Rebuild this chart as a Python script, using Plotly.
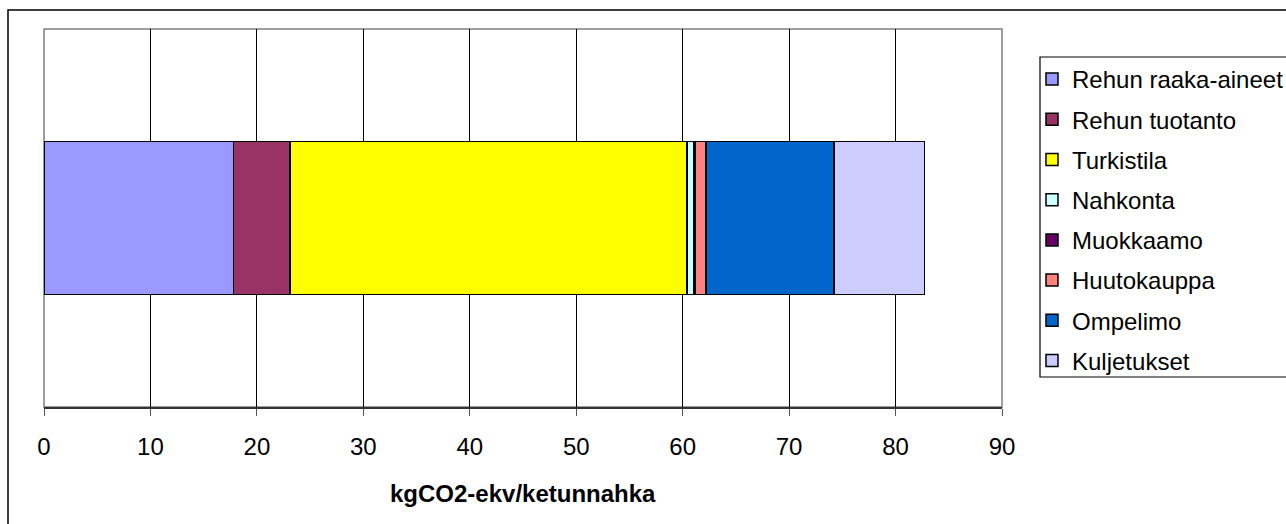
import plotly.graph_objects as go

categories = ["Rehun raaka-aineet", "Rehun tuotanto", "Turkistila", "Nahkonta",
              "Muokkaamo", "Huutokauppa", "Ompelimo", "Kuljetukset"]
values = [17.8, 5.3, 37.3, 0.65, 0.15, 1.0, 12.0, 8.5]
colors = ["#9999FF", "#993366", "#FFFF00", "#CCFFFF",
          "#660066", "#FF8080", "#0066CC", "#CCCCFF"]
bar_label = ["ketunnahka"]
tick_vals = [0, 10, 20, 30, 40, 50, 60, 70, 80, 90]
x_title = "kgCO2-ekv/ketunnahka"

FONT = "Liberation Sans, Arial, sans-serif"
FS = 24

W, H = 1286, 524
L, R, T, B = 44, 1002, 29, 407
pw, ph = R - L, B - T

def px(x):
    return (x - L) / pw

def py(y):
    return (B - y) / ph

fig = go.Figure()
for i, (name, v, c) in enumerate(zip(categories, values, colors)):
    fig.add_trace(go.Bar(
        y=bar_label, x=[v], name=name, orientation="h",
        marker=dict(color=c, line=dict(color="#000000", width=1.5)),
        legendgroup=f"g{i}",
        hoverinfo="name+x",
    ))

fig.update_layout(
    width=W, height=H,
    margin=dict(l=L, r=W - R, t=T, b=H - B, pad=0, autoexpand=False),
    paper_bgcolor="white", plot_bgcolor="white",
    barmode="stack", bargap=0.595,
    font=dict(family=FONT, size=FS, color="black"),
    showlegend=True,
    legend=dict(
        x=px(1032), y=py(57), xanchor="left", yanchor="top",
        traceorder="grouped", tracegroupgap=6,
        bgcolor="rgba(0,0,0,0)", borderwidth=0,
        font=dict(family=FONT, size=FS, color="black"),
    ),
    xaxis=dict(
        range=[0, 90], tickvals=tick_vals, showgrid=True,
        gridcolor="#000000", gridwidth=1,
        ticks="outside", ticklen=7, tickcolor="#555555", tickwidth=1,
        showline=True, linecolor="#333333", linewidth=1.5,
        ticklabelstandoff=10, zeroline=False,
        tickfont=dict(family=FONT, size=FS, color="black"),
    ),
    yaxis=dict(showticklabels=False, showgrid=False, zeroline=False,
               ticks="", showline=False),
    shapes=[
        dict(type="rect", xref="paper", yref="paper", x0=0, x1=1, y0=0, y1=1,
             line=dict(color="#808080", width=1.5), layer="below"),
        dict(type="rect", xref="paper", yref="paper",
             x0=px(8), x1=px(1300), y0=py(540), y1=py(10),
             line=dict(color="#000000", width=1.5)),
        dict(type="rect", xref="paper", yref="paper",
             x0=px(1040), x1=px(1300), y0=py(377), y1=py(57),
             line=dict(color="#000000", width=1.2)),
    ],
    annotations=[
        dict(text="<b>" + x_title + "</b>", xref="paper", yref="paper",
             x=0.5, y=py(493), xanchor="center", yanchor="middle",
             showarrow=False, font=dict(family=FONT, size=FS, color="black")),
    ],
)

fig.write_html(
    "out.html",
    config={"displayModeBar": False},
    post_script="document.body.style.margin='0';document.body.style.overflow='hidden';",
)
